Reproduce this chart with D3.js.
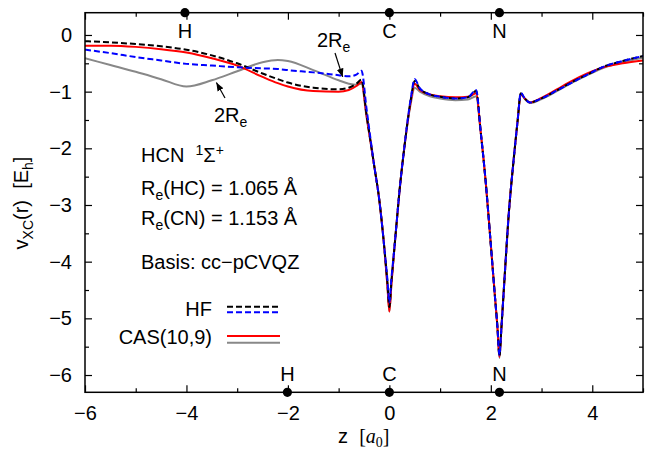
<!DOCTYPE html>
<html>
<head>
<meta charset="utf-8">
<script src="https://cdn.jsdelivr.net/npm/d3@7"></script>
<style>
body { margin: 0; background: #fff; }
text { font-family: "Liberation Sans", Arial, sans-serif; white-space: pre; }
</style>
</head>
<body>
<div id="vis"></div>
<script>
const W = 651, H = 451
const MARGIN = {top: 12.7, bot: 58.7, left: 85, right: 8}

// z positions along the molecular axis [a0]
const zPos = [-6, -5.5, -5, -4.5, -4, -3.5, -3, -2.5, -2.2, -2, -1.5, -1, -0.8, -0.65, -0.55,
    -0.45, -0.3, -0.2, -0.1, -0.04, 0, 0.04, 0.1, 0.2, 0.3, 0.42, 0.5, 0.6, 0.8, 1.0,
    1.3, 1.55, 1.71, 1.8, 1.9, 2.0, 2.08, 2.13, 2.17, 2.21, 2.27, 2.35, 2.45, 2.53, 2.59,
    2.67, 2.77, 3.0, 3.3, 3.6, 3.9, 4.25, 4.6, 5.0]

const hfRe = [-0.11, -0.13, -0.16, -0.2, -0.26, -0.36, -0.5, -0.68, -0.78, -0.84, -0.93, -0.96, -0.93, -0.86, -0.79,
    -1.4, -2.3, -2.9, -3.75, -4.35, -4.8, -4.35, -3.75, -2.75, -1.95, -1.15, -0.81, -0.95, -1.05, -1.09,
    -1.12, -1.1, -0.99, -1.7, -2.6, -3.7, -4.6, -5.15, -5.67, -5.15, -4.3, -3.2, -2.2, -1.5, -1.03,
    -1.12, -1.19, -1.12, -0.98, -0.83, -0.7, -0.55, -0.46, -0.37]

const hfTwoRe = [-0.26, -0.32, -0.39, -0.45, -0.51, -0.54, -0.57, -0.59, -0.6, -0.62, -0.66, -0.71, -0.73, -0.7, -0.63,
    -1.3, -2.3, -2.9, -3.75, -4.3, -4.72, -4.3, -3.75, -2.75, -1.95, -1.13, -0.78, -0.94, -1.05, -1.09,
    -1.12, -1.1, -0.97, -1.7, -2.6, -3.7, -4.6, -5.15, -5.65, -5.15, -4.3, -3.2, -2.2, -1.5, -1.02,
    -1.12, -1.19, -1.12, -0.98, -0.84, -0.7, -0.55, -0.46, -0.37]

const casRe = [-0.19, -0.19, -0.21, -0.25, -0.31, -0.41, -0.54, -0.74, -0.85, -0.91, -0.99, -1.0, -0.97, -0.9, -0.83,
    -1.42, -2.3, -2.9, -3.75, -4.4, -4.88, -4.4, -3.75, -2.75, -1.95, -1.18, -0.86, -0.97, -1.05, -1.08,
    -1.1, -1.09, -1.03, -1.7, -2.6, -3.7, -4.6, -5.15, -5.68, -5.15, -4.3, -3.2, -2.2, -1.5, -1.04,
    -1.12, -1.19, -1.11, -0.96, -0.81, -0.68, -0.56, -0.5, -0.45]

const casTwoRe = [-0.41, -0.53, -0.65, -0.78, -0.91, -0.8, -0.64, -0.48, -0.44, -0.46, -0.62, -0.8, -0.86, -0.88, -0.86,
    -1.45, -2.3, -2.9, -3.75, -4.4, -4.88, -4.4, -3.75, -2.75, -1.95, -1.22, -0.93, -1.0, -1.08, -1.12,
    -1.15, -1.14, -1.08, -1.72, -2.6, -3.7, -4.6, -5.15, -5.7, -5.15, -4.3, -3.2, -2.2, -1.5, -1.05,
    -1.13, -1.2, -1.13, -0.99, -0.84, -0.71, -0.57, -0.48, -0.4]

const xTicks = [-6, -4, -2, 0, 2, 4]
const xMinor = [-5, -3, -1, 1, 3, 5]
const yTicks = [0, -1, -2, -3, -4, -5, -6]
const yMinor = [-0.5, -1.5, -2.5, -3.5, -4.5, -5.5]

const atomsTop = ["H", "C", "N"]
const atomsTopZ = [-4.03, 0, 2.17]
const atomsBot = ["H", "C", "N"]
const atomsBotZ = [-2.01, 0, 2.17]

const FS = 20, SUB = 14

const svg = d3.select("#vis")
    .append("svg")
    .attr("width", W)
    .attr("height", H)

const x = d3.scaleLinear()
    .domain([-6, 5])
    .range([MARGIN.left, W - MARGIN.right])

const y = d3.scaleLinear()
    .domain([-6.305, 0.393])
    .range([H - MARGIN.bot, MARGIN.top])

const x0 = MARGIN.left, x1 = W - MARGIN.right
const y0 = MARGIN.top, y1 = H - MARGIN.bot

// ticks, inward on all four sides
function styleAxis(g) {
    g.select(".domain").remove()
    g.selectAll("line").attr("stroke", "black").attr("stroke-width", 1.2)
    g.selectAll("text").attr("font-size", FS).attr("fill", "black")
        .attr("font-family", "Liberation Sans, Arial, sans-serif")
}

svg.append("g").attr("transform", `translate(0, ${y1})`)
    .call(d3.axisBottom(x).tickValues(xTicks).tickSize(-7).tickPadding(14).tickFormat(d3.format("d")))
    .call(styleAxis)
svg.append("g").attr("transform", `translate(0, ${y1})`)
    .call(d3.axisBottom(x).tickValues(xMinor).tickSize(-4).tickFormat(""))
    .call(styleAxis)
svg.append("g").attr("transform", `translate(0, ${y0})`)
    .call(d3.axisTop(x).tickValues(xTicks).tickSize(-7).tickFormat(""))
    .call(styleAxis)
svg.append("g").attr("transform", `translate(0, ${y0})`)
    .call(d3.axisTop(x).tickValues(xMinor).tickSize(-4).tickFormat(""))
    .call(styleAxis)

svg.append("g").attr("transform", `translate(${x0}, 0)`)
    .call(d3.axisLeft(y).tickValues(yTicks).tickSize(-7).tickPadding(13).tickFormat(d3.format("d")))
    .call(styleAxis)
svg.append("g").attr("transform", `translate(${x0}, 0)`)
    .call(d3.axisLeft(y).tickValues(yMinor).tickSize(-4).tickFormat(""))
    .call(styleAxis)
svg.append("g").attr("transform", `translate(${x1}, 0)`)
    .call(d3.axisRight(y).tickValues(yTicks).tickSize(-7).tickFormat(""))
    .call(styleAxis)
svg.append("g").attr("transform", `translate(${x1}, 0)`)
    .call(d3.axisRight(y).tickValues(yMinor).tickSize(-4).tickFormat(""))
    .call(styleAxis)

// curves
svg.append("clipPath").attr("id", "clip")
    .append("rect").attr("x", x0).attr("y", y0).attr("width", x1 - x0).attr("height", y1 - y0)

const line = d3.line()
    .x((d, i) => x(zPos[i]))
    .y(d => y(d))
    .curve(d3.curveMonotoneX)

const series = [
    {vals: casTwoRe, color: "#888888", dash: null},
    {vals: casRe, color: "#ff0000", dash: null},
    {vals: hfRe, color: "#000000", dash: "6,3"},
    {vals: hfTwoRe, color: "#0000ff", dash: "6,3"}
]

svg.append("g").attr("clip-path", "url(#clip)")
    .selectAll("path")
    .data(series)
    .join("path")
    .attr("d", d => line(d.vals))
    .attr("fill", "none")
    .attr("stroke", d => d.color)
    .attr("stroke-width", 2)
    .attr("stroke-dasharray", d => d.dash)

// frame
svg.append("rect")
    .attr("x", x0).attr("y", y0)
    .attr("width", x1 - x0).attr("height", y1 - y0)
    .attr("fill", "none").attr("stroke", "black").attr("stroke-width", 1.5)

// atom positions on top and bottom axes
svg.selectAll(".atop").data(atomsTopZ).join("circle")
    .attr("cx", d => x(d)).attr("cy", y0).attr("r", 4.6).attr("fill", "black")
svg.selectAll(".ltop").data(atomsTop).join("text")
    .attr("x", (d, i) => x(atomsTopZ[i])).attr("y", 38)
    .attr("text-anchor", "middle").attr("font-size", FS).text(d => d)
svg.selectAll(".abot").data(atomsBotZ).join("circle")
    .attr("cx", d => x(d)).attr("cy", y1).attr("r", 4.6).attr("fill", "black")
svg.selectAll(".lbot").data(atomsBot).join("text")
    .attr("x", (d, i) => x(atomsBotZ[i])).attr("y", 381)
    .attr("text-anchor", "middle").attr("font-size", FS).text(d => d)

// 2Re annotations
svg.append("defs").append("marker")
    .attr("id", "arr").attr("viewBox", "0 0 10 10").attr("refX", 10).attr("refY", 5)
    .attr("markerWidth", 7).attr("markerHeight", 7).attr("orient", "auto")
    .append("path").attr("d", "M0,1 L10,5 L0,9 Z").attr("fill", "black")

function note(tx, ty, hx, hy, lx, ly) {
    svg.append("line")
        .attr("x1", tx).attr("y1", ty).attr("x2", hx).attr("y2", hy)
        .attr("stroke", "black").attr("stroke-width", 1.2).attr("marker-end", "url(#arr)")
    const t = svg.append("text").attr("x", lx).attr("y", ly).attr("font-size", FS)
    t.append("tspan").text("2R")
    t.append("tspan").attr("dy", 5).attr("font-size", SUB).text("e")
}
note(225, 98, x(-3.41), y(-0.84), 214, 122)
note(335, 53, x(-0.92), y(-0.74), 317, 47)

// info text
const info = svg.append("g").attr("font-size", FS)
const t1 = info.append("text").attr("x", 141).attr("y", 162)
t1.append("tspan").text("HCN\u00a0\u00a0")
t1.append("tspan").attr("dy", -7).attr("font-size", SUB).text("1")
t1.append("tspan").attr("dy", 7).text("Σ")
t1.append("tspan").attr("dy", -7).attr("font-size", SUB).text("+")

function reLine(yy, bond, val) {
    const t = info.append("text").attr("x", 141).attr("y", yy)
    t.append("tspan").text("R")
    t.append("tspan").attr("dy", 5).attr("font-size", SUB).text("e")
    t.append("tspan").attr("dy", -5).text(`(${bond}) = ${val} Å`)
}
reLine(195, "HC", "1.065")
reLine(225, "CN", "1.153")
info.append("text").attr("x", 141).attr("y", 269).text("Basis: cc−pCVQZ")

// legend
info.append("text").attr("x", 212).attr("y", 316).attr("text-anchor", "end").text("HF")
info.append("text").attr("x", 212).attr("y", 344).attr("text-anchor", "end").text("CAS(10,9)")
const legLines = [
    {yy: 306.7, color: "#000000", dash: "6,3"},
    {yy: 312.3, color: "#0000ff", dash: "6,3"},
    {yy: 336, color: "#ff0000", dash: null},
    {yy: 342.7, color: "#888888", dash: null}
]
svg.selectAll(".leg").data(legLines).join("line")
    .attr("x1", 227).attr("x2", 280)
    .attr("y1", d => d.yy).attr("y2", d => d.yy)
    .attr("stroke", d => d.color).attr("stroke-width", 2)
    .attr("stroke-dasharray", d => d.dash)

// axis titles
const xl = svg.append("text").attr("x", 338).attr("y", 443).attr("font-size", FS)
xl.append("tspan").text("z\u00a0\u00a0")
xl.append("tspan").attr("font-family", "Liberation Serif, serif").text("[")
xl.append("tspan").attr("font-family", "Liberation Serif, serif").attr("font-style", "italic").text("a")
xl.append("tspan").attr("font-family", "Liberation Serif, serif").attr("font-size", SUB).attr("dy", 4).text("0")
xl.append("tspan").attr("font-family", "Liberation Serif, serif").attr("dy", -4).text("]")

const yl = svg.append("text").attr("transform", "translate(28, 203) rotate(-90)")
    .attr("text-anchor", "middle").attr("font-size", FS)
yl.append("tspan").text("v")
yl.append("tspan").attr("dy", 5).attr("font-size", SUB).text("XC")
yl.append("tspan").attr("dy", -5).text("(r)\u00a0\u00a0[E")
yl.append("tspan").attr("dy", 5).attr("font-size", SUB).text("h")
yl.append("tspan").attr("dy", -5).text("]")
</script>
</body>
</html>
